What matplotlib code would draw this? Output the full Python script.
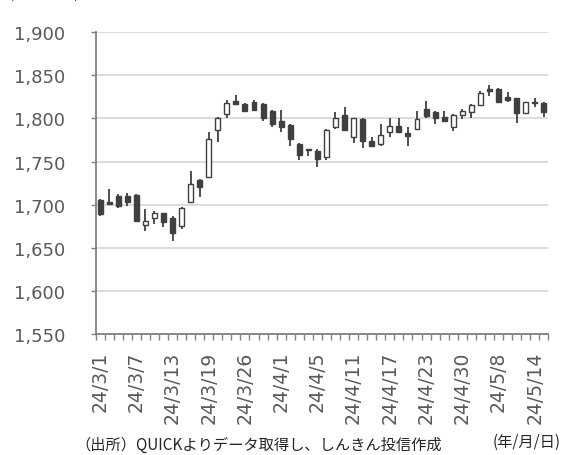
import matplotlib.pyplot as plt
import numpy as np

plt.rcParams['font.family'] = ['DejaVu Sans', 'Noto Sans CJK JP']

#-- DATA --

dates = ["24/3/1", "24/3/4", "24/3/5", "24/3/6", "24/3/7", "24/3/8", "24/3/11", "24/3/12",
         "24/3/13", "24/3/14", "24/3/15", "24/3/18", "24/3/19", "24/3/21", "24/3/22", "24/3/25",
         "24/3/26", "24/3/27", "24/3/28", "24/3/29", "24/4/1", "24/4/2", "24/4/3", "24/4/4",
         "24/4/5", "24/4/8", "24/4/9", "24/4/10", "24/4/11", "24/4/12", "24/4/15", "24/4/16",
         "24/4/17", "24/4/18", "24/4/19", "24/4/22", "24/4/23", "24/4/24", "24/4/25", "24/4/26",
         "24/4/30", "24/5/1", "24/5/2", "24/5/7", "24/5/8", "24/5/9", "24/5/10", "24/5/13",
         "24/5/14", "24/5/15"]

opens = [1706, 1703, 1710, 1710, 1711, 1676, 1685, 1690, 1685, 1675,
         1703.5, 1729, 1732, 1786, 1805, 1820, 1817, 1819, 1816.5, 1809,
         1797, 1792, 1770, 1764, 1762.5, 1755, 1790, 1804, 1779, 1799,
         1774, 1770, 1784, 1791, 1783, 1788, 1811, 1807, 1802, 1790,
         1804, 1807, 1815, 1834, 1834, 1825, 1823.5, 1806, 1819, 1817.5]

highs = [1707, 1718, 1712, 1714, 1712, 1695, 1693, 1691, 1687, 1697,
         1739, 1730, 1784, 1802, 1821, 1827, 1818, 1821.5, 1818, 1810,
         1810, 1793, 1771.5, 1764.5, 1764.5, 1788, 1807, 1813.5, 1801, 1800,
         1778, 1794, 1800, 1800, 1790, 1809, 1820, 1808, 1808, 1805,
         1811, 1817, 1832, 1838.5, 1835, 1830, 1824, 1819, 1823.5, 1818.5]

lows = [1687, 1700, 1696, 1698, 1680, 1670, 1678, 1674, 1658, 1672,
        1703, 1709, 1731, 1773, 1800, 1815, 1807, 1809, 1797, 1790,
        1784, 1768, 1752, 1757, 1744, 1752, 1788, 1785, 1772, 1766,
        1767, 1768, 1779, 1783, 1768, 1787, 1801, 1794, 1796, 1785,
        1799, 1801, 1814.5, 1826, 1817.7, 1818.5, 1795, 1805, 1813, 1802]

closes = [1689, 1701, 1698, 1703, 1681, 1681, 1690, 1680, 1667, 1696,
          1724, 1720, 1776, 1801, 1818, 1817, 1808, 1810, 1801, 1793,
          1790, 1776, 1758, 1763, 1753, 1786, 1801, 1786.5, 1800, 1774,
          1768, 1781, 1791, 1784, 1780, 1799, 1803, 1800, 1797, 1804,
          1809, 1816, 1829, 1832, 1818.5, 1821, 1806, 1818.5, 1817.5, 1807]

y_ticks = [1550, 1600, 1650, 1700, 1750, 1800, 1850, 1900]

#-- PLOT --

fig = plt.figure(figsize=(5.62, 4.56), dpi=100)
ax = fig.add_axes([0.170, 0.2647, 0.8056, 0.6629])

x = np.arange(len(dates))
o = np.array(opens)
c = np.array(closes)
up = c >= o

dark = "#404040"
ax.vlines(x, lows, highs, color=dark, linewidth=1.3, zorder=2)
ax.bar(x, np.maximum(np.abs(c - o), 0.8), bottom=np.minimum(o, c), width=0.55,
       color=np.where(up, "white", dark), edgecolor=dark, linewidth=1.0, zorder=3)

ax.set_xlim(-0.5, len(dates) - 0.5)
ax.set_ylim(1550, 1900)
ax.set_yticks(y_ticks)
ax.set_yticklabels([f"{v:,}" for v in y_ticks])
ax.grid(axis="y", color="#d9d9d9", linewidth=1.3, zorder=0)

# labels every 4th trading day, tick marks between days
lab_idx = x[::4]
ax.set_xticks(lab_idx)
ax.set_xticklabels([dates[i] for i in lab_idx], rotation=90)
ax.set_xticks(np.arange(-0.5, len(dates), 1), minor=True)
ax.tick_params(axis="x", which="major", length=0, pad=12, labelsize=13.5, labelcolor="#595959")
ax.tick_params(axis="x", which="minor", length=4.5, width=1.0, color="#808080")
ax.tick_params(axis="y", length=3.8, width=1.0, color="#808080", pad=18,
               labelsize=13, labelcolor="#595959")

for s in ["top", "right"]:
    ax.spines[s].set_visible(False)
for s in ["left", "bottom"]:
    ax.spines[s].set_color("#808080")
    ax.spines[s].set_linewidth(1.3)

# unit label sits at the very top edge
fig.text(0.015, 0.995, "(ポイント)", fontsize=11, color="#404040", va="bottom",
         family=["Noto Sans CJK JP"])
fig.text(0.135, 0.024, "（出所）QUICKよりデータ取得し、しんきん投信作成", fontsize=11,
         color="#262626", va="center", ha="left", family=["Noto Sans CJK JP"])
fig.text(0.998, 0.030, "(年/月/日)", fontsize=11, color="#262626", va="center",
         ha="right", family=["Noto Sans CJK JP"])

fig.savefig("out.png", dpi=100)
